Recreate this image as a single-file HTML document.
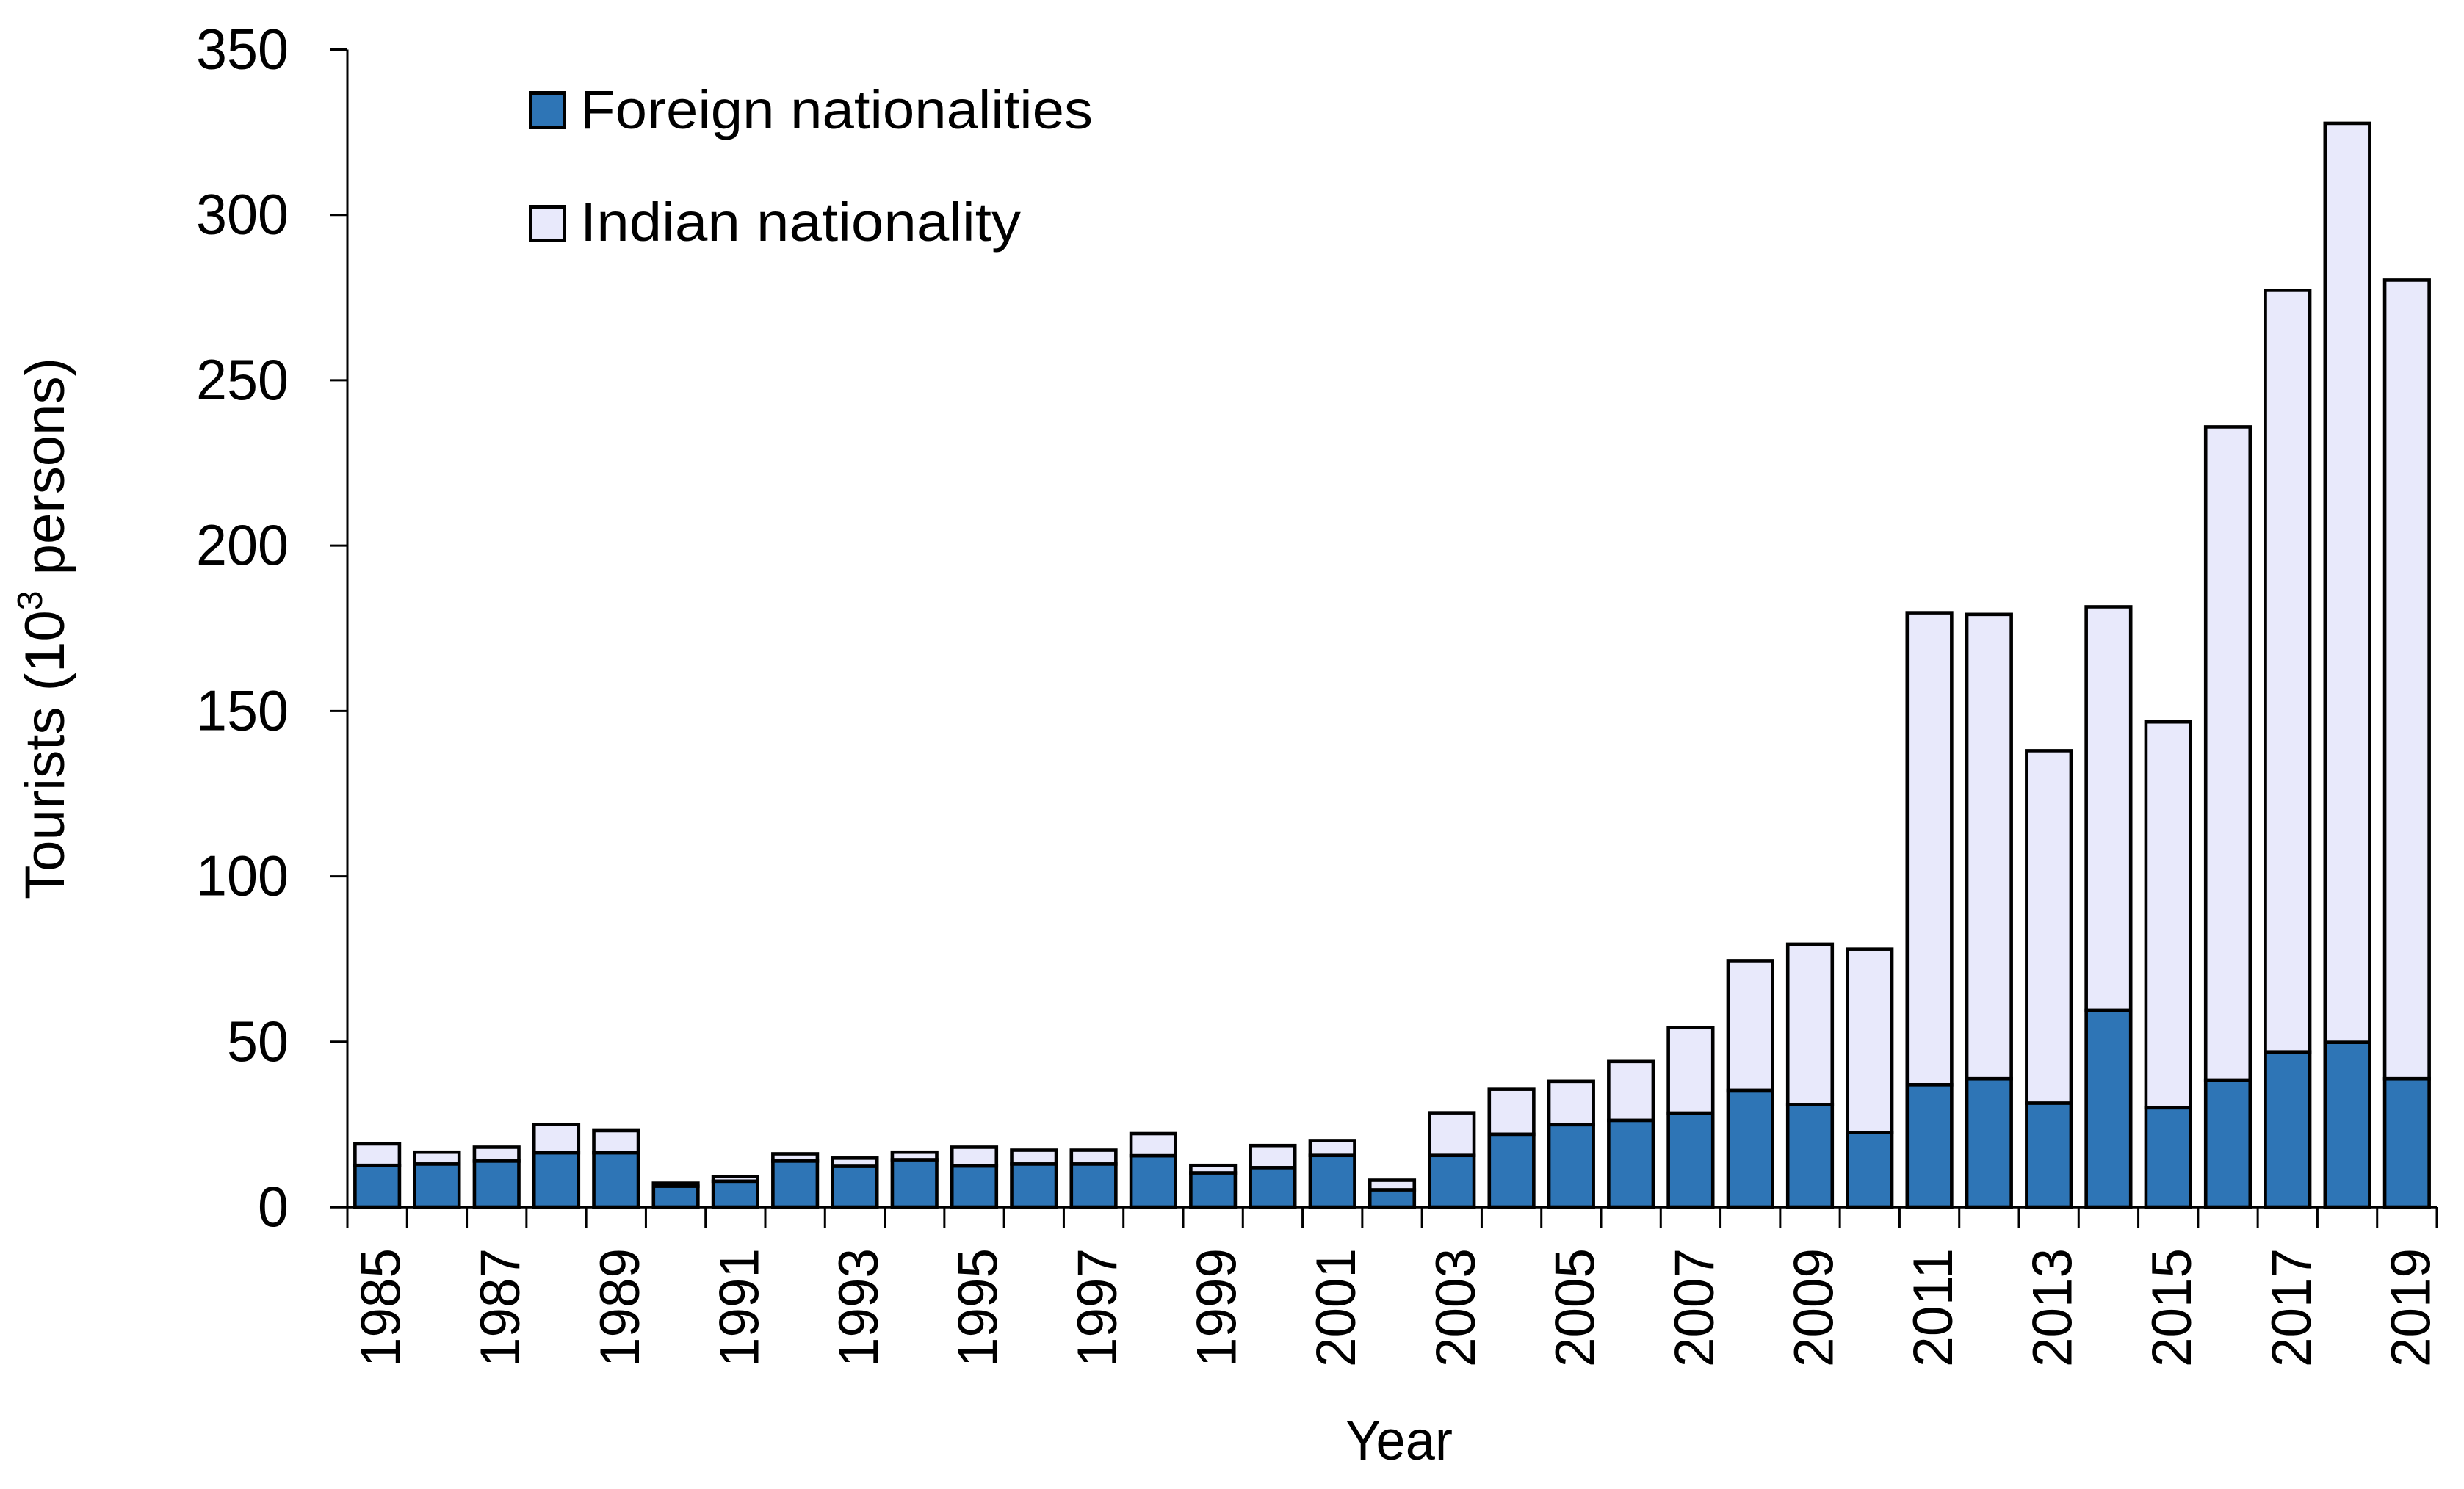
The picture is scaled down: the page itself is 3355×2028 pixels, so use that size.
<!DOCTYPE html>
<html lang="en">
<head>
<meta charset="utf-8">
<title>Tourists by nationality, 1985–2019</title>
<style>
  html, body { margin: 0; padding: 0; background: #fff; }
  svg { display: block; }
  text { font-family: "Liberation Sans", sans-serif; fill: #000; }
</style>
</head>
<body>
<svg id="chart" xmlns="http://www.w3.org/2000/svg" width="3355" height="2028" viewBox="0 0 3355 2028">
  <rect x="0" y="0" width="3355" height="2028" fill="#ffffff"/>
  <g id="bars"></g>
  <g id="axes"></g>

  <text transform="translate(87,1225) rotate(-90)" font-size="76" textLength="738" lengthAdjust="spacingAndGlyphs">Tourists (10<tspan font-size="48" dy="-30">3</tspan><tspan dy="30"> persons)</tspan></text>
  <text x="1832" y="1988" font-size="76" textLength="146" lengthAdjust="spacingAndGlyphs">Year</text>

  <g>
    <g>
      <rect x="722.5" y="126.5" width="46" height="47" fill="#2E75B6" stroke="#000" stroke-width="5"/>
      <text x="790" y="175" font-size="74" textLength="698" lengthAdjust="spacingAndGlyphs">Foreign nationalities</text>
    </g>
    <g>
      <rect x="722.5" y="281.5" width="46" height="46" fill="#E8E9FB" stroke="#000" stroke-width="5"/>
      <text x="790" y="328" font-size="74" textLength="600" lengthAdjust="spacingAndGlyphs">Indian nationality</text>
    </g>
  </g>
</svg>
<script>
const years = [1985,1986,1987,1988,1989,1990,1991,1992,1993,1994,1995,1996,1997,1998,1999,2000,2001,2002,2003,2004,2005,2006,2007,2008,2009,2010,2011,2012,2013,2014,2015,2016,2017,2018,2019];
const foreignValues = [12.6,13,13.9,16.4,16.4,6.3,7.8,13.9,12.3,14.3,12.4,13,13,15.5,10.3,11.9,15.6,5.2,15.6,22,24.9,26.2,28.4,35.3,31,22.5,37,38.8,31.4,59.5,30,38.4,46.9,49.8,38.8];
const indianValues = [6.5,3.6,4.2,8.6,6.7,0.9,1.4,2.2,2.5,2.3,5.7,4.2,4.2,6.7,2.3,6.7,4.5,2.9,12.9,13.6,13.1,17.8,25.9,39.2,48.5,55.5,142.7,140.4,106.6,122,116.7,197.5,230.3,277.9,241.5];
const yTickValues = [0,50,100,150,200,250,300,350];
const xLabelEvery = 2;

const NS = 'http://www.w3.org/2000/svg';
const plotLeft = 473, plotRight = 3318, plotBottom = 1644, plotTop = 67.5;
const yMax = 350;
const bandWidth = (plotRight - plotLeft) / years.length;
const barWidth = bandWidth * 0.745;

function xBand(i) { return plotLeft + i * bandWidth; }
function xCenter(i) { return xBand(i) + bandWidth / 2; }
function yScale(v) { return plotBottom - (v / yMax) * (plotBottom - plotTop); }

function make(tag, attrs, parent) {
  const el = document.createElementNS(NS, tag);
  Object.keys(attrs).forEach(function (k) { el.setAttribute(k, attrs[k]); });
  parent.appendChild(el);
  return el;
}

const barsGroup = document.getElementById('bars');
const axesGroup = document.getElementById('axes');

years.forEach(function (year, i) {
  const left = xCenter(i) - barWidth / 2;
  const foreignTop = yScale(foreignValues[i]);
  const totalTop = yScale(foreignValues[i] + indianValues[i]);

  const indianBar = make('rect', { x: left, y: totalTop, width: barWidth, height: foreignTop - totalTop, fill: '#E8E9FB', stroke: '#000', 'stroke-width': 4.6 }, barsGroup);
  
  

  const foreignBar = make('rect', { x: left, y: foreignTop, width: barWidth, height: plotBottom - foreignTop, fill: '#2E75B6', stroke: '#000', 'stroke-width': 4.6 }, barsGroup);
  
  
});

const yAxisLine = make('line', { x1: plotLeft, y1: plotTop, x2: plotLeft, y2: plotBottom + 28, stroke: '#000', 'stroke-width': 3 }, axesGroup);



const xAxisLine = make('line', { x1: plotLeft - 24, y1: plotBottom, x2: plotRight, y2: plotBottom, stroke: '#000', 'stroke-width': 3.5 }, axesGroup);



yTickValues.forEach(function (v) {
  const y = yScale(v);
  const tick = make('line', { x1: plotLeft - 24, y1: y, x2: plotLeft, y2: y, stroke: '#000', 'stroke-width': 3 }, axesGroup);
  
  

  const label = make('text', { x: 393, y: y + 26, 'font-size': 78, 'text-anchor': 'end', textLength: String(v).length * 42, lengthAdjust: 'spacingAndGlyphs' }, axesGroup);
  label.textContent = String(v);
  
  
});

for (let i = 1; i <= years.length; i++) {
  const x = xBand(i);
  const tick = make('line', { x1: x, y1: plotBottom, x2: x, y2: plotBottom + 28, stroke: '#000', 'stroke-width': 3 }, axesGroup);
  
  
}

years.forEach(function (year, i) {
  if (i % xLabelEvery !== 0) return;
  const base = xCenter(i) + 31;
  const label = make('text', { transform: 'translate(' + base + ',1862) rotate(-90)', 'font-size': 76, textLength: 162, lengthAdjust: 'spacingAndGlyphs' }, axesGroup);
  label.textContent = String(year);
  
  
});
</script>
</body>
</html>
